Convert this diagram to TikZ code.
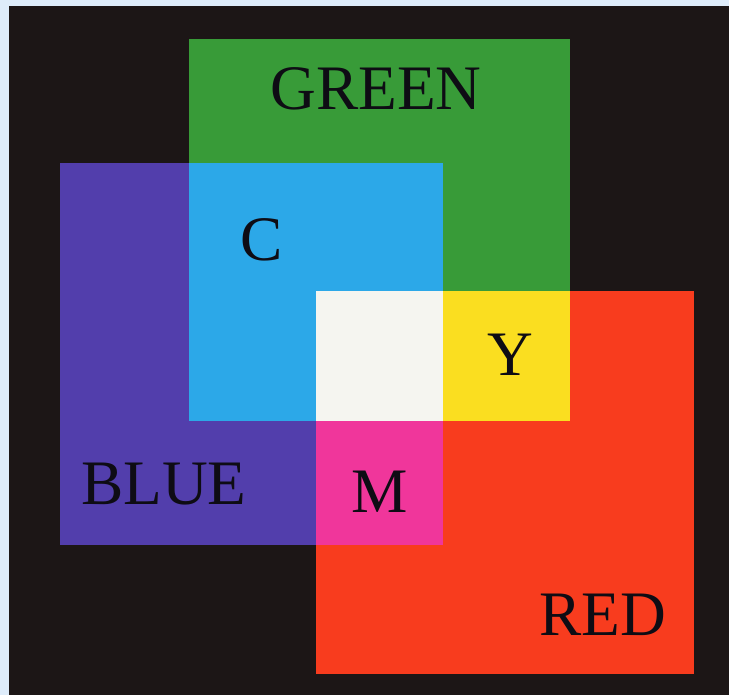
\documentclass[tikz,border=0pt]{standalone}
\usepackage{fontspec}
\setmainfont{Liberation Serif}
\usepackage{xcolor}
\usepackage{tikz}
\definecolor{myback}{RGB}{222,236,250}
\definecolor{myblack}{RGB}{28,22,22}
\definecolor{mygreen}{RGB}{56,155,56}
\definecolor{myblue}{RGB}{82,62,172}
\definecolor{myred}{RGB}{248,60,30}
\definecolor{mycyan}{RGB}{44,168,232}
\definecolor{myyellow}{RGB}{250,222,32}
\definecolor{mymagenta}{RGB}{240,54,155}
\definecolor{mywhite}{RGB}{245,245,240}
\definecolor{mydark}{RGB}{14,12,20}
\tikzset{
  lbl/.style={font=\fontsize{28.5}{30}\selectfont, text=mydark, inner sep=0pt}
}

\begin{document}
\begin{tikzpicture}[x=2cm,y=2cm]
\useasboundingbox (0,0) rectangle (5.763,5.494);
\fill[myback] (0,0) rectangle (5.763,5.494);
\fill[myblack] (0.071,0) rectangle (5.763,5.447);
%--- primaries ---
\fill[mygreen] (1.494,2.166) rectangle (4.506,5.186);
\fill[myblue] (0.474,1.186) rectangle (3.502,4.206);
\fill[myred] (2.498,0.166) rectangle (5.490,3.194);
%--- overlaps ---
\fill[mycyan] (1.494,2.166) rectangle (3.502,4.206);
\fill[myyellow] (2.498,2.166) rectangle (4.506,3.194);
\fill[mymagenta] (2.498,1.186) rectangle (3.502,3.194);
\fill[mywhite] (2.498,2.166) rectangle (3.502,3.194);
% labels
\node[lbl] (green) at (2.972,4.794) {GREEN};
\node[lbl] (blue) at (1.296,1.668) {BLUE};
\node[lbl] (red) at (4.763,0.636) {RED};
\node[lbl] (cyan) at (2.071,3.601) {C};
\node[lbl] (yellow) at (4.032,2.692) {Y};
\node[lbl] (magenta) at (3.004,1.609) {M};
\end{tikzpicture}
\end{document}
